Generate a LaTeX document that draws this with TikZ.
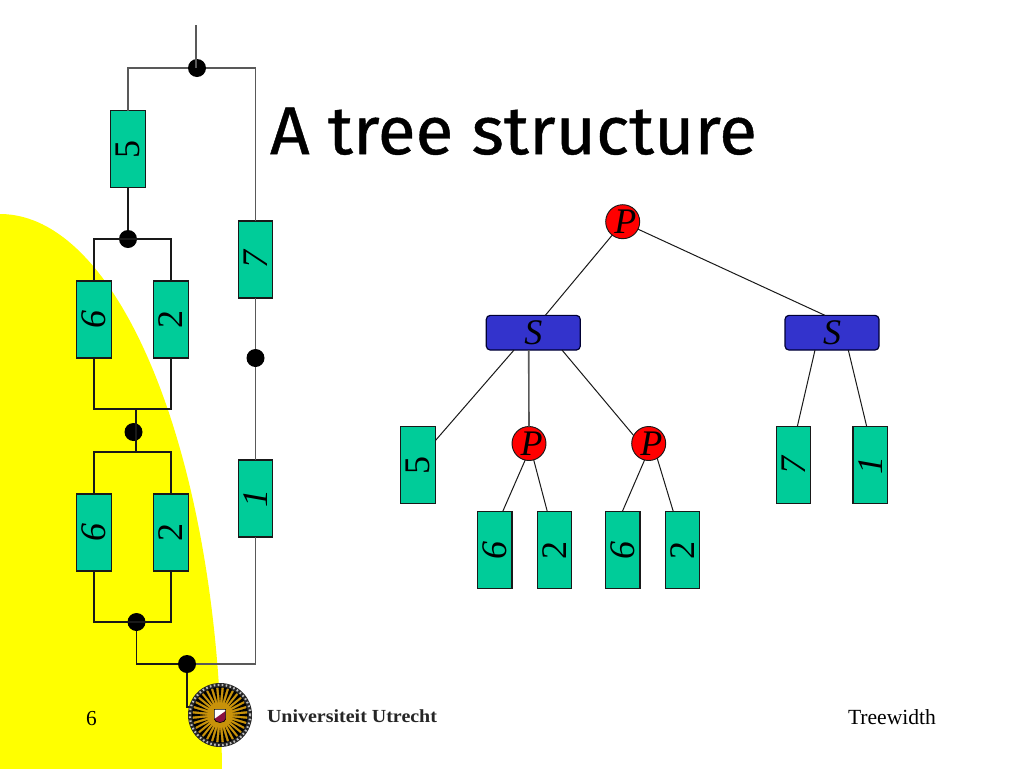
\documentclass[tikz,border=0pt]{standalone}
\usepackage{fontspec}
\usepackage{graphicx}
\setmainfont{Liberation Serif}
\newfontfamily\titlefont[FakeBold=0.6]{Fira Sans}
\usetikzlibrary{calc}
\definecolor{boxgreen}{RGB}{0,204,153}
\definecolor{sblue}{RGB}{51,51,204}
\definecolor{slideyellow}{RGB}{255,255,0}
\definecolor{nodered}{RGB}{255,0,0}
\definecolor{logogold}{RGB}{200,146,10}
\definecolor{logomaroon}{RGB}{138,16,64}
\newcommand{\sidetext}[1]{\rotatebox{90}{\fontsize{27pt}{27pt}\selectfont #1}}
\newcommand{\pletter}{\makebox[0pt]{\kern4pt P}}
\tikzset{
  x=0.75pt,y=-0.75pt,
  elem/.style={draw=black!90,line width=0.9pt,fill=boxgreen,rectangle,minimum width=25.9pt,minimum height=57.7pt,inner sep=0pt,outer sep=0pt},
  pnode/.style={draw=black!90,line width=0.7pt,fill=nodered,circle,minimum size=25.5pt,inner sep=0pt,outer sep=0pt,font=\fontsize{27pt}{27pt}\selectfont\itshape},
  snode/.style={draw=black!80!blue,line width=0.9pt,fill=sblue,rectangle,rounded corners=3pt,minimum width=70.5pt,minimum height=26pt,inner sep=0pt,outer sep=0pt,font=\fontsize{27pt}{27pt}\selectfont\itshape},
  joint/.style={circle,fill=black,minimum size=13.5pt,inner sep=0pt,outer sep=0pt},
  wire/.style={draw=black!90,line width=0.95pt},
  wiregrey/.style={draw=black!65,line width=1pt},
  treeedge/.style={draw=black!90,line width=0.75pt},
  label/.style={inner sep=0pt,outer sep=0pt,text=black}
}
\begin{document}
\begin{tikzpicture}
\useasboundingbox (0,0) rectangle (1024,768);
\fill[white] (0,0) rectangle (1024,768);
\begin{scope}
\clip (0,0) rectangle (1024,768);
\fill[slideyellow] (0,780) ellipse [x radius=166.5pt,y radius=424.5pt];
\end{scope}

% circuit elements
\node[elem] (c5) at (128,149) {\sidetext{5}};
\node[elem] (c6a) at (94,319.5) {\sidetext{\itshape 6}};
\node[elem] (c2a) at (171,319.5) {\sidetext{2}};
\node[elem] (c6b) at (94,532.5) {\sidetext{\itshape 6}};
\node[elem] (c2b) at (171,532.5) {\sidetext{2}};
\node[elem] (c7) at (255.5,259.5) {\sidetext{\itshape 7}};
\node[elem] (c1) at (255.5,498.5) {\sidetext{\itshape 1}};
% joints
\node[joint] (jtop) at (197,68) {};
\node[joint] (j5) at (128,239) {};
\node[joint] (jmid) at (133.5,432) {};
\node[joint] (jlow) at (136.5,622) {};
\node[joint] (jbot) at (187,664) {};
\node[joint] (jright) at (255.5,358) {};
% free ends and corners
\coordinate (lead) at (196,25);
\coordinate (leadb) at (196,68);
\coordinate (tl) at (128,68);
\coordinate (tr) at (255.5,68);
\coordinate (al) at (94,239);
\coordinate (ar) at (171,239);
\coordinate (bl) at (94,409);
\coordinate (br) at (171,409);
\coordinate (bm) at (136,409);
\coordinate (cl) at (94,452);
\coordinate (cr) at (171,452);
\coordinate (cm) at (136,452);
\coordinate (dl) at (94,622);
\coordinate (dr) at (171,622);
\coordinate (ec) at (136.5,664);
\coordinate (er) at (255.5,664);
\coordinate (fd) at (187,707);
\coordinate (fe) at (194,707);

\draw[wiregrey] (lead) -- (leadb);
\draw[wiregrey] (c5.north) -- (tl) -- (jtop) -- (tr) -- (c7.north);
\draw[wire] (c5.south) -- (j5);
\draw[wire] (c6a.north) -- (al) -- (ar) -- (c2a.north);
\draw[wire] (c6a.south) -- (bl) -- (br) -- (c2a.south);
\draw[wire] (bm) -- (cm);
\draw[wire] (c6b.north) -- (cl) -- (cr) -- (c2b.north);
\draw[wire] (c6b.south) -- (dl) -- (dr) -- (c2b.south);
\draw[wire] (jlow) -- (ec) -- (jbot);
\draw[wiregrey] (jbot) -- (er) -- (c1.south);
\draw[wiregrey] (c7.south) -- (jright) -- (c1.north);
\draw[wire] (jbot) -- (fd) -- (fe);

% title
\node[label,anchor=south west] (title) at (270,155) {\resizebox{365pt}{35pt}{\titlefont A tree structure}};

% tree
\node[pnode] (p0) at (622.7,221.7) {\pletter};
\node[snode] (s1) at (533.3,332.7) {S};
\node[snode] (s2) at (832,332.7) {S};
\node[elem] (t5) at (418,465) {\sidetext{5}};
\node[pnode] (p1) at (529,443.5) {\pletter};
\node[pnode] (p2) at (648.7,443.5) {\pletter};
\node[elem] (t6a) at (494.8,550) {\sidetext{\itshape 6}};
\node[elem] (t2a) at (554.5,550) {\sidetext{2}};
\node[elem] (t6b) at (622.8,550) {\sidetext{\itshape 6}};
\node[elem] (t2b) at (682.5,550) {\sidetext{2}};
\node[elem] (t7) at (793.5,465) {\sidetext{\itshape 7}};
\node[elem] (t1) at (870.3,465) {\sidetext{\itshape 1}};

\draw[treeedge] (p0.232) -- ($(s1.north)+(12,0)$);
\draw[treeedge] (p0.-26) -- ($(s2.north)+(-7,0)$);
\draw[treeedge] ($(s1.south)+(-19.3,0)$) -- ($(t5.east)+(0,-24.3)$);
\draw[wiregrey,line width=1.2pt] ($(s1.south)+(-4.6,0)$) -- (p1.north);
\draw[treeedge] ($(s1.south)+(28.7,0)$) -- (p2.152);
\draw[treeedge] (p1.-103) -- ($(t6a.north)+(7.9,0)$);
\draw[treeedge] (p1.-74) -- ($(t2a.north)+(-7.2,0)$);
\draw[treeedge] (p2.-104) -- ($(t6b.north)+(-0.5,0)$);
\draw[treeedge] (p2.-60) -- ($(t2b.north)+(-9.2,0)$);
\draw[treeedge] ($(s2.south)+(-17,0)$) -- ($(t7.north)+(3.8,0)$);
\draw[treeedge] ($(s2.south)+(16.3,0)$) -- ($(t1.north)+(-3.6,0)$);

% logo
\begin{scope}[shift={(220,715)}]
\fill[black!85] (0,0) circle (24pt);
\draw[black!25,line width=1.6pt,dash pattern=on 1.2pt off 1.8pt] (0,0) circle (22.6pt);
\fill[logogold] (0,0) circle (20.5pt);
\foreach \a in {0,11.25,...,349} {
  \fill[black] (\a-3.2:21pt) -- (\a:9.5pt) -- (\a+3.2:21pt) -- cycle;
}
\fill[logogold] (0,0) circle (9.5pt);
\fill[white] (-4.2pt,4.2pt) rectangle (4.2pt,-3pt);
\fill[logomaroon] (-4.2pt,-3pt) -- (4.2pt,3pt) -- (4.2pt,-3pt) arc (0:-180:4.2pt and 2.6pt) -- cycle;
\draw[black,line width=0.5pt] (-4.2pt,4.2pt) -- (4.2pt,4.2pt) -- (4.2pt,-3pt) arc (0:-180:4.2pt and 2.6pt) -- cycle;
\end{scope}

% footer
\node[label,anchor=base west,text=black!85] (uu) at (267,722.5) {\resizebox{127.5pt}{9.6pt}{\bfseries Universiteit Utrecht}};
\node[label,anchor=base] (pg) at (91.5,725) {\fontsize{16pt}{16pt}\selectfont 6};
\node[label,anchor=base east] (tw) at (936,724) {\fontsize{16.2pt}{16.2pt}\selectfont Treewidth};
\end{tikzpicture}
\end{document}
